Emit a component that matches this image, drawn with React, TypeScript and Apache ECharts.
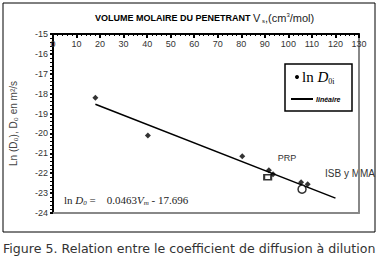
import React, { useEffect, useRef } from "react";
import * as echarts from "echarts";

const xTicks = [0, 130, 10];
const yRange = [-24, -15, 1];
const points: [number, number][] = [
  [18, -18.2],
  [40.3, -20.1],
  [80.4, -21.15],
  [91.7, -21.85],
  [93.5, -22.05],
  [105.4, -22.45],
  [108.2, -22.55],
];
const fitLine: [number, number][] = [
  [18, -18.53],
  [120, -23.25],
];
const squareMark: [number, number][] = [[91.2, -22.2]];
const circleMark: [number, number][] = [[105.8, -22.8]];
const titleMain = "VOLUME MOLAIRE DU PENETRANT ";
const yName = "Ln (D₀), D₀ en m²/s";
const caption = "Figure 5. Relation entre le coefficient de diffusion à dilution";

export default function App() {
  const ref = useRef<HTMLDivElement>(null);
  useEffect(() => {
    document.body.style.margin = "0";
    const chart = echarts.init(ref.current!, null, { renderer: "svg" });
    const axisFont = { fontFamily: "Liberation Sans, Arial", fontSize: 9, color: "#333" };
    chart.setOption({
      animation: false,
      grid: { left: 52, top: 34, width: 307, height: 179 },
      xAxis: [
        {
          type: "value",
          position: "top",
          min: xTicks[0],
          max: xTicks[1],
          interval: xTicks[2],
          axisLine: { show: true, onZero: false, lineStyle: { color: "#000", width: 2 } },
          axisTick: { show: true, inside: true, length: 4, lineStyle: { color: "#000", width: 2 } },
          minorTick: { show: true, splitNumber: 5, length: 2, lineStyle: { color: "#000", width: 1 } },
          axisLabel: { inside: true, margin: 5, showMinLabel: true, ...axisFont },
          splitLine: { show: false },
        },
        {
          type: "value",
          position: "bottom",
          min: xTicks[0],
          max: xTicks[1],
          axisLine: { show: true, onZero: false, lineStyle: { color: "#888", width: 2 } },
          axisTick: { show: false },
          axisLabel: { show: false },
          splitLine: { show: false },
        },
      ],
      yAxis: [
        {
          type: "value",
          position: "left",
          min: yRange[0],
          max: yRange[1],
          interval: yRange[2],
          name: yName,
          nameLocation: "middle",
          nameGap: 35,
          nameTextStyle: { fontFamily: "Liberation Sans, Arial", fontSize: 10, color: "#444" },
          axisLine: { show: true, onZero: false, lineStyle: { color: "#000", width: 2 } },
          axisTick: { show: true, length: 3, lineStyle: { color: "#000", width: 2 } },
          minorTick: { show: true, splitNumber: 5, length: 3, lineStyle: { color: "#000", width: 1 } },
          axisLabel: { margin: 5, ...axisFont },
          splitLine: { show: false },
        },
        {
          type: "value",
          position: "right",
          min: yRange[0],
          max: yRange[1],
          axisLine: { show: true, onZero: false, lineStyle: { color: "#888", width: 2 } },
          axisTick: { show: false },
          axisLabel: { show: false },
          splitLine: { show: false },
        },
      ],
      series: [
        {
          type: "line",
          data: fitLine,
          showSymbol: false,
          lineStyle: { color: "#000", width: 1.5 },
          z: 2,
        },
        {
          type: "scatter",
          data: points,
          symbol: "diamond",
          symbolSize: 6,
          itemStyle: { color: "#000" },
          z: 3,
        },
        {
          type: "scatter",
          data: squareMark,
          symbol: "rect",
          symbolSize: [7, 5],
          itemStyle: { color: "#fff", borderColor: "#000", borderWidth: 1.8 },
          z: 4,
        },
        {
          type: "scatter",
          data: circleMark,
          symbol: "circle",
          symbolSize: 8,
          itemStyle: { color: "#fff", borderColor: "#000", borderWidth: 1.5 },
          z: 4,
        },
      ],
      graphic: [
        {
          type: "rect",
          shape: { x: 3, y: 3, width: 372, height: 229 },
          style: { fill: "none", stroke: "#000", lineWidth: 1 },
          silent: true,
        },
        {
          type: "text",
          x: 95,
          y: 18,
          style: {
            text: "{b|" + titleMain + "}{v|V}{s| s}{n|,(cm}{sup|3}{n|/mol)}",
            verticalAlign: "middle",
            rich: {
              b: { fontFamily: "Liberation Sans Narrow, Arial Narrow, Liberation Sans", fontWeight: "bold", fontSize: 9, fill: "#000" },
              v: { fontFamily: "Liberation Sans, Arial", fontSize: 11, fill: "#222" },
              s: { fontFamily: "Liberation Sans, Arial", fontSize: 6, fill: "#222", verticalAlign: "bottom", padding: [6, 0, 0, 0] },
              n: { fontFamily: "Liberation Sans, Arial", fontSize: 11, fill: "#222" },
              sup: { fontFamily: "Liberation Sans, Arial", fontSize: 6, fill: "#222", verticalAlign: "top", padding: [0, 0, 6, 0] },
            },
          },
        },
        {
          type: "rect",
          shape: { x: 285, y: 64, width: 67, height: 47 },
          style: { fill: "#fff", stroke: "#000", lineWidth: 1.5 },
          z: 10,
        },
        {
          type: "circle",
          shape: { cx: 297, cy: 77, r: 2 },
          style: { fill: "#000" },
          z: 11,
        },
        {
          type: "text",
          x: 302,
          y: 77,
          style: {
            text: "{n|ln }{i|D}{s|0i}",
            verticalAlign: "middle",
            rich: {
              n: { fontFamily: "Liberation Serif, DejaVu Serif", fontSize: 15, fill: "#000" },
              i: { fontFamily: "Liberation Serif, DejaVu Serif", fontStyle: "italic", fontSize: 15, fill: "#000" },
              s: { fontFamily: "Liberation Serif, DejaVu Serif", fontSize: 8, fill: "#000", padding: [8, 0, 0, 0] },
            },
          },
          z: 11,
        },
        {
          type: "line",
          shape: { x1: 291, y1: 99, x2: 313, y2: 99 },
          style: { stroke: "#000", lineWidth: 2 },
          z: 11,
        },
        {
          type: "text",
          x: 316,
          y: 99,
          style: {
            text: "linéaire",
            verticalAlign: "middle",
            fontFamily: "Liberation Sans, Arial",
            fontStyle: "italic",
            fontWeight: "bold",
            fontSize: 7,
            fill: "#000",
          },
          z: 11,
        },
        {
          type: "text",
          x: 287,
          y: 158,
          style: {
            text: "PRP",
            align: "center",
            verticalAlign: "middle",
            fontFamily: "Liberation Sans, Arial",
            fontSize: 9,
            fill: "#333",
          },
        },
        {
          type: "text",
          x: 325,
          y: 173,
          style: {
            text: "ISB y MMA",
            verticalAlign: "middle",
            fontFamily: "Liberation Sans, Arial",
            fontSize: 10,
            fill: "#333",
          },
        },
        {
          type: "text",
          x: 64,
          y: 200,
          style: {
            text: "{n|ln }{i|D}{s|0}{n| =    0.0463}{i|V}{s|m}{n| - 17.696}",
            verticalAlign: "middle",
            rich: {
              n: { fontFamily: "Liberation Serif, DejaVu Serif", fontSize: 11, fill: "#222" },
              i: { fontFamily: "Liberation Serif, DejaVu Serif", fontStyle: "italic", fontSize: 11, fill: "#222" },
              s: { fontFamily: "Liberation Serif, DejaVu Serif", fontStyle: "italic", fontSize: 7, fill: "#222", padding: [6, 0, 0, 0] },
            },
          },
        },
        {
          type: "text",
          x: 3,
          y: 248,
          style: {
            text: caption,
            verticalAlign: "middle",
            fontFamily: "DejaVu Sans",
            fontSize: 12.6,
            fill: "#333",
          },
        },
      ],
    });
    return () => chart.dispose();
  }, []);
  return <div ref={ref} style={{ width: 378, height: 260 }} />;
}
